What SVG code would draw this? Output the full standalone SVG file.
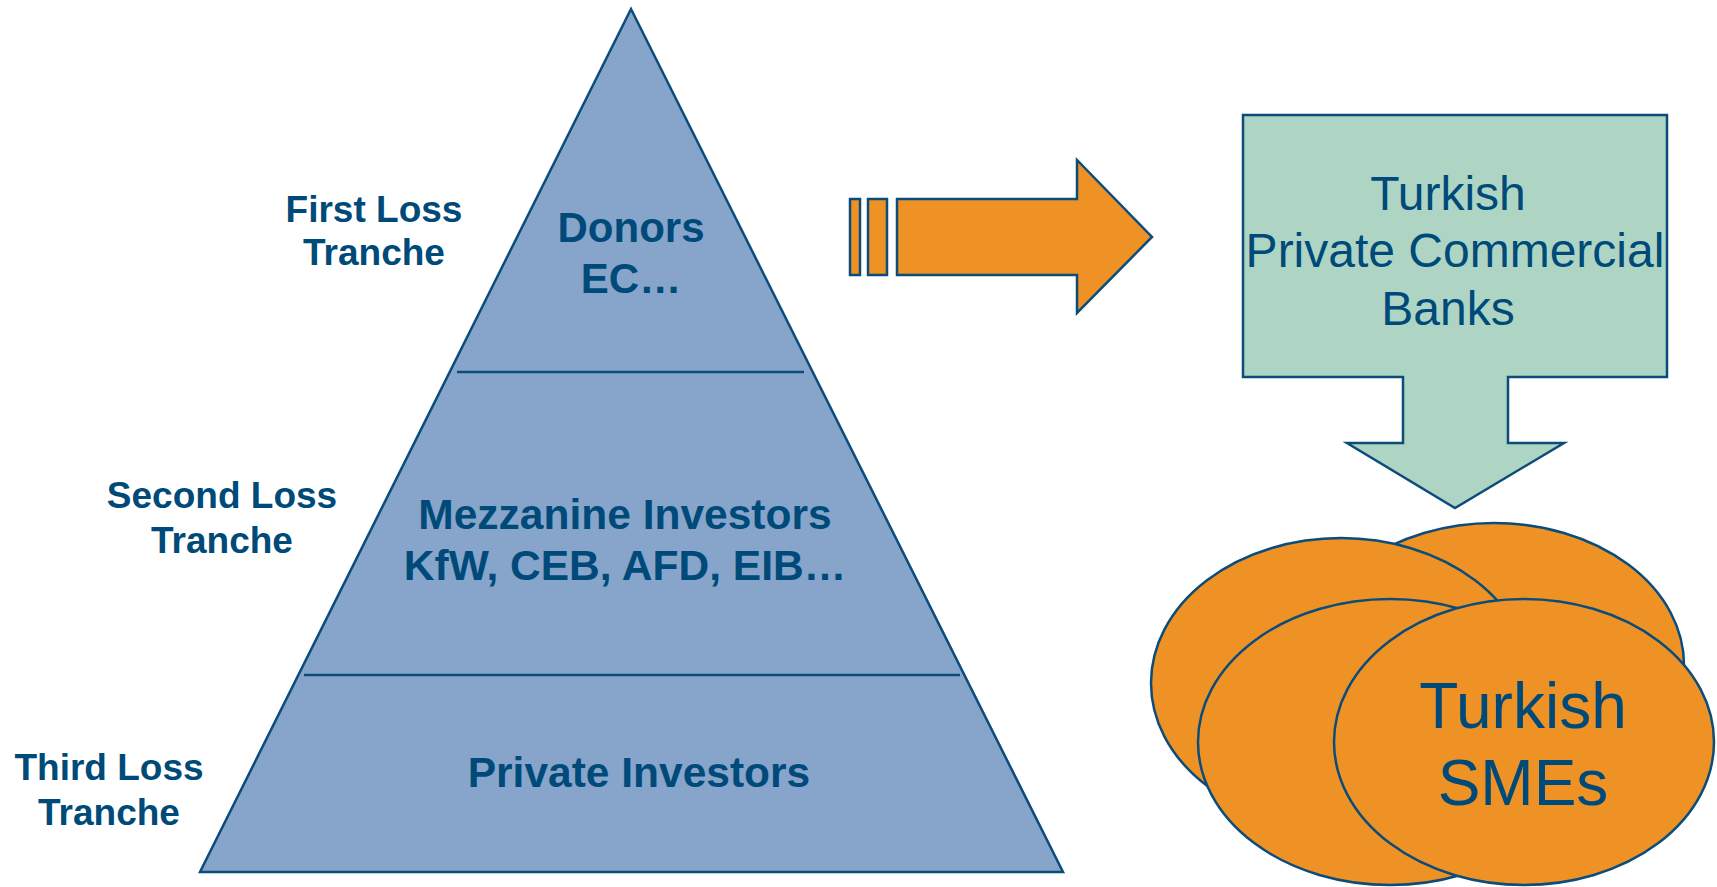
<svg xmlns="http://www.w3.org/2000/svg" width="1717" height="887" viewBox="0 0 1717 887">
  <style>
    .edge { stroke: #0B4C7A; stroke-width: 2.5; stroke-linejoin: miter; }
    .tri { fill: #87A5CB; }
    .orange { fill: #EE9225; }
    .green { fill: #AED5C3; }
    .div { stroke: #0B4C7A; stroke-width: 2.5; }
    .lbl { font-family: "Liberation Sans", Arial, sans-serif; font-weight: bold; fill: #004A7A; text-anchor: middle; }
    .reg { font-family: "Liberation Sans", Arial, sans-serif; fill: #004A7A; text-anchor: middle; }
  </style>
  <rect width="1717" height="887" fill="#ffffff"/>

  <!-- tranche pyramid -->
  <g id="pyramid">
    <polygon class="tri edge" points="631,9 200,872 1063,872"/>
    <line class="div" x1="457" y1="372" x2="804" y2="372"/>
    <line class="div" x1="304" y1="675" x2="960" y2="675"/>
  </g>

  <g id="donors">
    <text class="lbl" font-size="42" x="631" y="242">Donors</text>
    <text class="lbl" font-size="42" x="631" y="293">EC…</text>
  </g>
  <g id="mezzanine">
    <text class="lbl" font-size="42.5" x="625" y="529">Mezzanine Investors</text>
    <text class="lbl" font-size="42.5" x="625" y="580">KfW, CEB, AFD, EIB…</text>
  </g>
  <g id="private-investors">
    <text class="lbl" font-size="42.5" x="639" y="787">Private Investors</text>
  </g>

  <!-- tranche labels -->
  <g id="first-loss">
    <text class="lbl" font-size="37" x="374" y="222">First Loss</text>
    <text class="lbl" font-size="37" x="374" y="265">Tranche</text>
  </g>
  <g id="second-loss">
    <text class="lbl" font-size="37" x="222" y="508">Second Loss</text>
    <text class="lbl" font-size="37" x="222" y="553">Tranche</text>
  </g>
  <g id="third-loss">
    <text class="lbl" font-size="37" x="109" y="780">Third Loss</text>
    <text class="lbl" font-size="37" x="109" y="825">Tranche</text>
  </g>

  <!-- banks -->
  <g id="banks">
    <path class="green edge" d="M1243,115 H1667 V377 H1508 V443 H1564 L1455,508 L1347,443 H1403 V377 H1243 Z"/>
    <text class="reg" font-size="48" x="1448" y="210">Turkish</text>
    <text class="reg" font-size="48" x="1455" y="267">Private Commercial</text>
    <text class="reg" font-size="48" x="1448" y="325">Banks</text>
  </g>

  <!-- SMEs cluster -->
  <g id="smes">
    <ellipse class="orange edge" cx="1494" cy="665" rx="190" ry="142"/>
    <ellipse class="orange edge" cx="1341" cy="683" rx="190" ry="145"/>
    <ellipse class="orange edge" cx="1390" cy="742" rx="192" ry="143"/>
    <ellipse class="orange edge" cx="1524" cy="742" rx="190" ry="143"/>
    <text class="reg" font-size="64" x="1523" y="728">Turkish</text>
    <text class="reg" font-size="64" x="1523" y="805">SMEs</text>
  </g>

  <!-- connectors -->
  <g id="connectors">
    <rect class="orange edge" x="850" y="199" width="10" height="76"/>
    <rect class="orange edge" x="868" y="199" width="19" height="76"/>
    <path class="orange edge" d="M897,199 H1077 V160 L1152,237 L1077,313 V275 H897 Z"/>
  </g>
</svg>
